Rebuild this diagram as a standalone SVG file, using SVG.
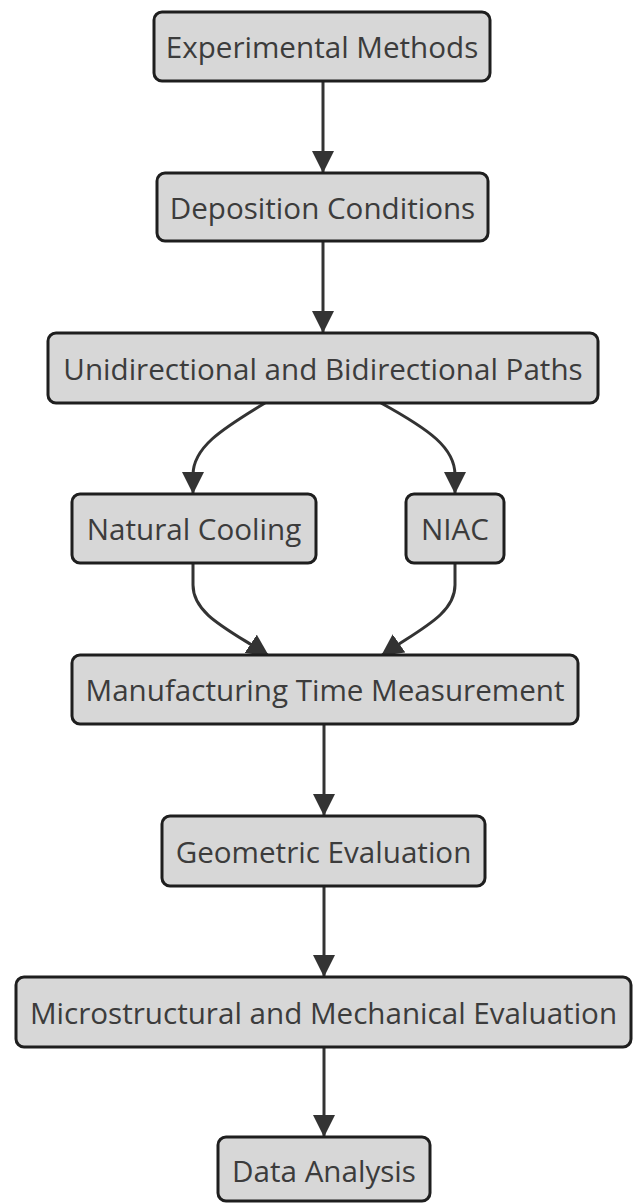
<svg xmlns="http://www.w3.org/2000/svg" width="633" height="1203" viewBox="0 0 633 1203">
<defs>
<style>
.node rect{fill:#d7d7d7;stroke:#1e1e1e;stroke-width:3}
.node text{font-family:"Open Sans","Noto Sans","Liberation Sans",sans-serif;font-size:29.6px;fill:#3c3c3c;text-anchor:middle;dominant-baseline:central}
.edge{fill:none;stroke:#333;stroke-width:3}
</style>
<marker id="arrow" viewBox="0 0 22 22" refX="22" refY="11" markerWidth="22" markerHeight="22" markerUnits="userSpaceOnUse" orient="auto">
<path d="M0,0 L22,11 L0,22 Z" fill="#333"/>
</marker>
</defs>
<rect width="633" height="1203" fill="#ffffff"/>
<g id="connectors">
<path class="edge" d="M323,81 L323,173" marker-end="url(#arrow)"/>
<path class="edge" d="M323,241 L323,333" marker-end="url(#arrow)"/>
<path class="edge" d="M265,403 C220,430 193,448 193,475 L193,494" marker-end="url(#arrow)"/>
<path class="edge" d="M381,403 C430,430 455,448 455,475 L455,494" marker-end="url(#arrow)"/>
<path class="edge" d="M193,563 L193,585 C193,615 230,630 269,656" marker-end="url(#arrow)"/>
<path class="edge" d="M455,563 L455,585 C455,615 418,630 381,656" marker-end="url(#arrow)"/>
<path class="edge" d="M324,724 L324,816" marker-end="url(#arrow)"/>
<path class="edge" d="M324,886 L324,977" marker-end="url(#arrow)"/>
<path class="edge" d="M324,1047 L324,1137" marker-end="url(#arrow)"/>
</g>
<g id="n1" class="node"><rect x="154" y="12" width="336" height="69" rx="8"/><text x="322" y="46.5">Experimental Methods</text></g>
<g id="n2" class="node"><rect x="157" y="173" width="331" height="68" rx="8"/><text x="322.5" y="207">Deposition Conditions</text></g>
<g id="n3" class="node"><rect x="48" y="333" width="550" height="70" rx="8"/><text x="323" y="368">Unidirectional and Bidirectional Paths</text></g>
<g id="n4" class="node"><rect x="72" y="494" width="244" height="69" rx="8"/><text x="194" y="528.5">Natural Cooling</text></g>
<g id="n5" class="node"><rect x="406" y="494" width="98" height="69" rx="8"/><text x="455" y="528.5">NIAC</text></g>
<g id="n6" class="node"><rect x="72" y="655" width="506" height="69" rx="8"/><text x="325" y="689.5">Manufacturing Time Measurement</text></g>
<g id="n7" class="node"><rect x="162" y="816" width="323" height="70" rx="8"/><text x="323.5" y="851">Geometric Evaluation</text></g>
<g id="n8" class="node"><rect x="16" y="977" width="615" height="70" rx="8"/><text x="323.5" y="1012">Microstructural and Mechanical Evaluation</text></g>
<g id="n9" class="node"><rect x="218" y="1137" width="212" height="64" rx="8"/><text x="324" y="1170">Data Analysis</text></g>
</svg>
